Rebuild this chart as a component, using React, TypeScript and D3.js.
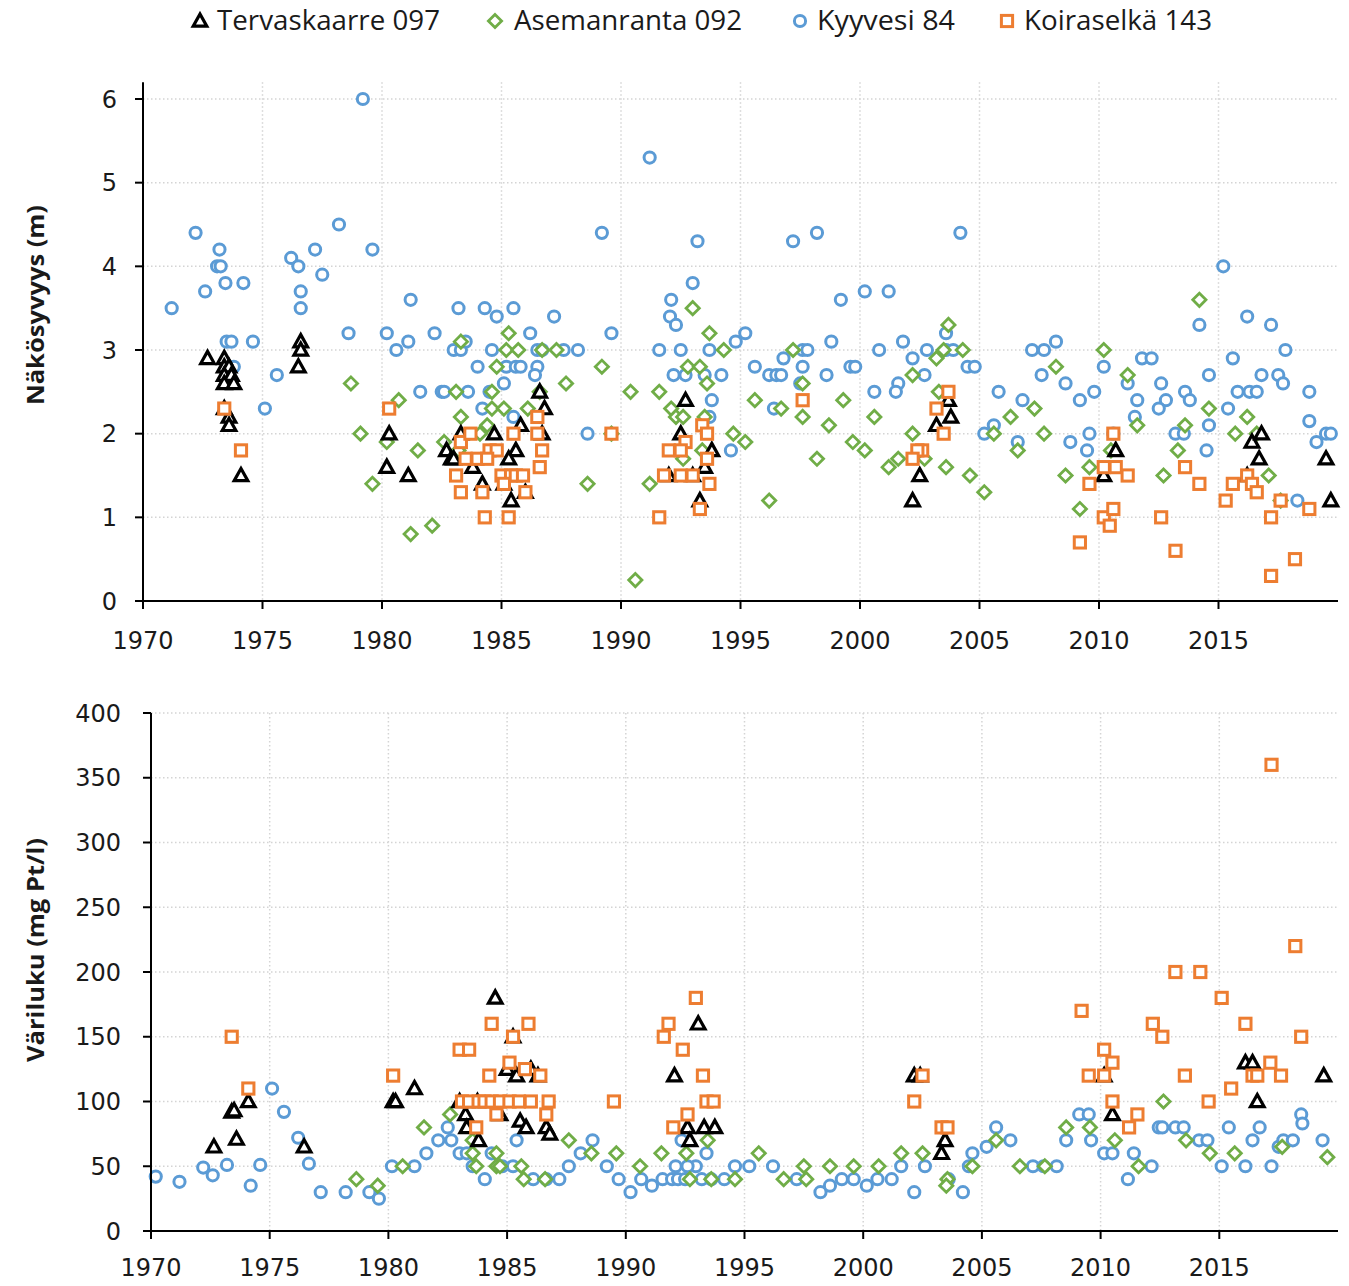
import React from "react";
import * as d3 from "d3";

type Pt = [number, number];

// Näkösyvyys (m) — [vuosi, arvo]
const kyyvesiSecchi: Pt[] = [
  [1971.2, 3.5], [1972.2, 4.4], [1972.6, 3.7], [1973.2, 4.2], [1973.1, 4.0], [1973.25, 4.0], [1973.45, 3.8],
  [1974.2, 3.8], [1973.5, 3.1], [1973.7, 3.1], [1973.8, 2.8], [1974.6, 3.1], [1975.6, 2.7], [1975.1, 2.3],
  [1976.2, 4.1], [1976.5, 4.0], [1976.6, 3.7], [1976.6, 3.5], [1977.2, 4.2], [1977.5, 3.9], [1978.2, 4.5],
  [1979.2, 6.0], [1979.6, 4.2], [1978.6, 3.2], [1980.2, 3.2], [1980.6, 3.0], [1981.2, 3.6], [1981.1, 3.1],
  [1982.2, 3.2], [1983.2, 3.5], [1984.3, 3.5], [1984.8, 3.4], [1985.5, 3.5], [1987.2, 3.4], [1989.2, 4.4],
  [1989.6, 3.2], [1983.0, 3.0], [1983.3, 3.0], [1983.5, 3.1], [1984.6, 3.0], [1986.2, 3.2], [1986.5, 3.0],
  [1986.7, 3.0], [1987.6, 3.0], [1988.2, 3.0], [1984.0, 2.8], [1985.2, 2.8], [1985.6, 2.8], [1985.8, 2.8],
  [1986.5, 2.8], [1986.4, 2.7], [1985.1, 2.6], [1981.6, 2.5], [1982.5, 2.5], [1982.6, 2.5], [1983.6, 2.5],
  [1984.5, 2.5], [1984.2, 2.3], [1985.5, 2.2], [1988.6, 2.0],
  [1991.2, 5.3], [1993.2, 4.3], [1993.0, 3.8], [1992.1, 3.6], [1992.05, 3.4], [1992.3, 3.3], [1991.6, 3.0],
  [1992.5, 3.0], [1993.7, 3.0], [1994.8, 3.1], [1995.2, 3.2], [1992.2, 2.7], [1992.7, 2.7], [1993.5, 2.7],
  [1994.2, 2.7], [1993.8, 2.4], [1993.7, 2.2], [1994.6, 1.8], [1995.6, 2.8], [1996.2, 2.7], [1996.5, 2.7],
  [1996.7, 2.7], [1996.8, 2.9], [1997.2, 4.3], [1998.2, 4.4], [1997.6, 3.0], [1997.8, 3.0], [1997.6, 2.8],
  [1997.5, 2.6], [1996.4, 2.3], [1998.8, 3.1], [1998.6, 2.7], [1999.2, 3.6], [2000.2, 3.7], [1999.6, 2.8],
  [1999.8, 2.8], [2000.6, 2.5],
  [2001.2, 3.7], [2000.8, 3.0], [2001.8, 3.1], [2002.2, 2.9], [2002.8, 3.0], [2002.7, 2.7], [2001.6, 2.6],
  [2001.5, 2.5], [2003.6, 3.2], [2003.6, 3.0], [2003.9, 3.0], [2004.2, 4.4], [2004.5, 2.8], [2004.8, 2.8],
  [2005.2, 2.0], [2005.6, 2.1], [2005.8, 2.5], [2006.6, 1.9], [2006.8, 2.4], [2007.2, 3.0], [2007.7, 3.0],
  [2008.2, 3.1], [2007.6, 2.7], [2008.6, 2.6], [2009.2, 2.4], [2009.8, 2.5], [2008.8, 1.9], [2009.5, 1.8],
  [2009.6, 2.0], [2010.2, 2.8], [2010.6, 2.0],
  [2015.2, 4.0], [2014.2, 3.3], [2016.2, 3.4], [2017.2, 3.3], [2017.8, 3.0], [2015.6, 2.9], [2011.8, 2.9],
  [2012.2, 2.9], [2011.2, 2.6], [2014.6, 2.7], [2012.6, 2.6], [2011.6, 2.4], [2012.8, 2.4], [2012.5, 2.3],
  [2013.6, 2.5], [2013.8, 2.4], [2011.5, 2.2], [2013.2, 2.0], [2013.55, 2.0], [2014.6, 2.1], [2014.5, 1.8],
  [2015.8, 2.5], [2016.3, 2.5], [2016.6, 2.5], [2016.8, 2.7], [2017.5, 2.7], [2017.7, 2.6], [2015.4, 2.3],
  [2018.8, 2.5], [2018.8, 2.15], [2019.1, 1.9], [2019.5, 2.0], [2019.7, 2.0], [2018.3, 1.2],
];

const asemanrantaSecchi: Pt[] = [
  [1978.7, 2.6], [1979.1, 2.0], [1979.6, 1.4], [1980.2, 1.9], [1980.7, 2.4], [1981.5, 1.8], [1981.2, 0.8],
  [1982.1, 0.9], [1983.3, 3.1], [1982.6, 1.9], [1983.1, 2.5], [1983.3, 2.2], [1983.2, 1.8], [1985.3, 3.2],
  [1985.2, 3.0], [1985.7, 3.0], [1986.7, 3.0], [1987.3, 3.0], [1984.8, 2.8], [1984.6, 2.5], [1987.7, 2.6],
  [1989.2, 2.8], [1990.4, 2.5], [1984.6, 2.3], [1985.1, 2.3], [1986.1, 2.3], [1984.4, 2.1], [1984.1, 2.0],
  [1986.6, 2.5], [1988.6, 1.4], [1989.6, 2.0], [1990.6, 0.25],
  [1991.6, 2.5], [1992.1, 2.3], [1992.3, 2.2], [1992.6, 2.2], [1993.0, 3.5], [1993.7, 3.2], [1994.3, 3.0],
  [1992.8, 2.8], [1993.3, 2.8], [1993.6, 2.6], [1993.5, 2.2], [1992.6, 1.7], [1991.2, 1.4], [1994.7, 2.0],
  [1995.2, 1.9], [1993.4, 1.8], [1995.6, 2.4], [1996.2, 1.2], [1996.7, 2.3], [1997.2, 3.0], [1997.6, 2.6],
  [1997.6, 2.2], [1998.2, 1.7], [1998.7, 2.1], [1999.3, 2.4], [1999.7, 1.9], [2000.2, 1.8], [2000.6, 2.2],
  [2002.2, 2.7], [2003.2, 2.9], [2003.5, 3.0], [2003.7, 3.3], [2004.3, 3.0], [2003.3, 2.5], [2002.2, 2.0],
  [2001.2, 1.6], [2001.6, 1.7], [2002.7, 1.7], [2003.6, 1.6], [2004.6, 1.5], [2005.2, 1.3], [2005.6, 2.0],
  [2006.3, 2.2], [2006.6, 1.8], [2007.3, 2.3], [2007.7, 2.0], [2008.2, 2.8], [2008.6, 1.5], [2009.2, 1.1],
  [2009.6, 1.6], [2010.2, 3.0], [2010.5, 1.8],
  [2014.2, 3.6], [2011.2, 2.7], [2011.6, 2.1], [2013.6, 2.1], [2013.3, 1.8], [2012.7, 1.5], [2014.6, 2.3],
  [2015.7, 2.0], [2016.2, 2.2], [2016.6, 2.0], [2017.1, 1.5], [2017.6, 1.2],
];

const tervasSecchi: Pt[] = [
  [1972.7, 2.9], [1973.4, 2.9], [1973.4, 2.8], [1973.6, 2.8], [1973.4, 2.7], [1973.7, 2.7], [1973.4, 2.6],
  [1973.8, 2.6], [1973.6, 2.2], [1973.6, 2.1], [1973.4, 2.3], [1974.1, 1.5], [1976.6, 3.1], [1976.6, 3.0],
  [1976.5, 2.8], [1980.3, 2.0], [1980.2, 1.6], [1981.1, 1.5], [1982.7, 1.8], [1982.9, 1.7], [1983.3, 2.0],
  [1984.7, 2.0], [1985.6, 1.8], [1985.3, 1.7], [1984.2, 1.4], [1985.4, 1.2], [1985.1, 1.4], [1986.0, 1.3],
  [1986.6, 2.5], [1986.8, 2.3], [1986.7, 2.0], [1985.8, 2.1], [1983.8, 1.6], [1983.0, 1.7],
  [1992.7, 2.4], [1992.5, 2.0], [1993.8, 1.8], [1993.5, 1.6], [1992.0, 1.5], [1993.0, 1.5], [1993.3, 1.2],
  [2002.2, 1.2], [2002.5, 1.5], [2003.2, 2.1], [2003.8, 2.2], [2003.7, 2.4], [2010.2, 1.5], [2010.7, 1.8],
  [2016.4, 1.9], [2016.8, 2.0], [2016.7, 1.7], [2016.2, 1.5], [2019.5, 1.7], [2019.7, 1.2],
];

const koiraselkaSecchi: Pt[] = [
  [1973.4, 2.3], [1974.1, 1.8], [1980.3, 2.3], [1983.3, 1.9], [1983.7, 2.0], [1983.1, 1.5], [1983.3, 1.3],
  [1983.5, 1.7], [1984.0, 1.7], [1984.5, 1.8], [1984.8, 1.8], [1984.4, 1.7], [1984.2, 1.3], [1984.3, 1.0],
  [1985.3, 1.0], [1985.0, 1.5], [1985.4, 1.5], [1985.6, 1.5], [1985.9, 1.5], [1985.1, 1.4], [1986.0, 1.3],
  [1985.5, 2.0], [1986.5, 2.2], [1986.5, 2.0], [1986.7, 1.8], [1986.6, 1.6], [1989.6, 2.0],
  [1993.4, 2.1], [1993.6, 2.0], [1992.7, 1.9], [1992.0, 1.8], [1992.5, 1.8], [1993.6, 1.7], [1991.8, 1.5],
  [1992.5, 1.5], [1993.0, 1.5], [1993.7, 1.4], [1993.3, 1.1], [1991.6, 1.0], [1997.6, 2.4],
  [2002.6, 1.8], [2002.4, 1.8], [2002.2, 1.7], [2003.7, 2.5], [2003.2, 2.3], [2003.5, 2.0],
  [2009.6, 1.4], [2009.2, 0.7], [2010.2, 1.6], [2010.6, 2.0], [2010.2, 1.0], [2010.45, 0.9], [2010.6, 1.1],
  [2010.7, 1.6], [2011.2, 1.5], [2013.6, 1.6], [2014.2, 1.4], [2012.6, 1.0], [2013.2, 0.6], [2015.3, 1.2],
  [2015.6, 1.4], [2016.2, 1.5], [2016.4, 1.4], [2016.6, 1.3], [2017.2, 1.0], [2017.2, 0.3], [2017.6, 1.2],
  [2018.2, 0.5], [2018.8, 1.1],
];

// Väriluku (mg Pt/l) — [vuosi, arvo]
const kyyvesiColour: Pt[] = [
  [1970.2, 42], [1971.2, 38], [1972.2, 49], [1972.6, 43], [1973.2, 51], [1974.2, 35], [1974.6, 51],
  [1975.1, 110], [1975.6, 92], [1976.2, 72], [1976.65, 52], [1977.15, 30], [1978.2, 30], [1979.2, 30],
  [1979.6, 25], [1980.15, 50], [1981.1, 50], [1981.6, 60], [1982.1, 70], [1982.65, 70], [1982.5, 80],
  [1983.0, 60], [1983.3, 60], [1983.55, 50], [1984.06, 40], [1984.35, 60], [1984.8, 50], [1985.25, 50],
  [1985.4, 70], [1986.1, 40], [1986.65, 40], [1987.2, 40], [1987.6, 50], [1988.1, 60], [1988.6, 70],
  [1989.2, 50], [1989.7, 40], [1990.2, 30], [1990.65, 40], [1991.1, 35], [1991.55, 40], [1991.95, 40],
  [1992.2, 40], [1992.5, 40], [1992.1, 50], [1992.95, 50], [1992.35, 70], [1992.6, 50], [1993.2, 40],
  [1993.6, 40], [1994.15, 40], [1993.4, 60], [1994.6, 50], [1995.2, 50], [1996.2, 50], [1997.2, 40],
  [1998.2, 30], [1998.6, 35], [1999.1, 40], [1999.6, 40], [2000.15, 35], [2000.6, 40], [2001.2, 40],
  [2001.6, 50], [2002.15, 30], [2002.6, 50], [2003.6, 40], [2004.2, 30], [2004.45, 50], [2004.6, 60],
  [2005.2, 65], [2005.6, 80], [2006.2, 70], [2007.15, 50], [2007.6, 50], [2008.15, 50], [2008.55, 70],
  [2009.1, 90], [2009.5, 90], [2009.6, 70], [2010.15, 60], [2010.5, 60], [2011.15, 40], [2011.4, 60],
  [2012.15, 50], [2012.45, 80], [2012.6, 80], [2013.15, 80], [2013.5, 80], [2014.15, 70], [2014.5, 70],
  [2015.1, 50], [2015.4, 80], [2016.1, 50], [2016.4, 70], [2016.7, 80], [2017.2, 50], [2017.5, 65],
  [2017.7, 70], [2018.1, 70], [2018.45, 90], [2018.5, 83], [2019.35, 70],
];

const asemanrantaColour: Pt[] = [
  [1978.65, 40], [1979.55, 35], [1980.6, 50], [1981.5, 80], [1982.6, 90], [1983.55, 70], [1983.55, 60],
  [1983.7, 50], [1984.55, 60], [1984.55, 50], [1984.7, 50], [1985.6, 50], [1985.7, 40], [1986.6, 40],
  [1987.6, 70], [1988.55, 60], [1989.6, 60], [1990.6, 50], [1991.5, 60], [1992.55, 60], [1992.7, 40],
  [1993.45, 70], [1993.6, 40], [1994.6, 40], [1995.6, 60], [1996.65, 40], [1997.6, 40], [1997.5, 50],
  [1998.6, 50], [1999.6, 50], [2000.65, 50], [2001.6, 60], [2002.5, 60], [2003.55, 40], [2003.5, 35],
  [2004.6, 50], [2005.6, 70], [2006.6, 50], [2007.65, 50], [2008.55, 80], [2009.55, 80], [2010.6, 70],
  [2011.6, 50], [2012.65, 100], [2013.6, 70], [2014.6, 60], [2015.65, 60], [2017.65, 65], [2019.55, 57],
];

const tervasColour: Pt[] = [
  [1972.65, 65], [1973.4, 92], [1973.5, 93], [1973.6, 71], [1974.1, 100], [1976.45, 65], [1980.2, 100],
  [1980.3, 100], [1981.1, 110], [1983.0, 100], [1983.25, 90], [1983.3, 80], [1983.8, 70], [1983.75, 100],
  [1984.5, 180], [1985.0, 125], [1985.4, 120], [1986.0, 125], [1986.3, 120], [1984.7, 90], [1985.55, 85],
  [1985.8, 80], [1986.65, 80], [1986.8, 75], [1985.25, 150],
  [1992.05, 120], [1993.05, 160], [1992.6, 80], [1993.3, 80], [1993.75, 80], [1992.7, 70],
  [2002.15, 120], [2002.4, 120], [2003.45, 70], [2003.3, 60], [2010.15, 120], [2010.5, 90],
  [2016.1, 130], [2016.4, 130], [2016.6, 100], [2019.4, 120],
];

const koiraselkaColour: Pt[] = [
  [1973.4, 150], [1974.1, 110], [1980.2, 120], [1983.0, 140], [1983.4, 140], [1984.35, 160], [1985.9, 160],
  [1985.25, 150], [1984.25, 120], [1985.1, 130], [1985.75, 125], [1986.4, 120], [1983.1, 100], [1983.4, 100],
  [1983.8, 100], [1984.05, 100], [1984.35, 100], [1984.7, 100], [1985.1, 100], [1985.5, 100], [1986.0, 100],
  [1986.75, 100], [1984.55, 90], [1986.65, 90], [1983.7, 80], [1989.5, 100],
  [1992.95, 180], [1991.8, 160], [1991.6, 150], [1992.4, 140], [1993.25, 120], [1993.4, 100], [1993.7, 100],
  [1992.6, 90], [1992.0, 80], [2002.5, 120], [2002.15, 100], [2003.3, 80], [2003.55, 80],
  [2009.2, 170], [2010.15, 140], [2010.5, 130], [2009.5, 120], [2010.15, 120], [2010.5, 100], [2011.55, 90],
  [2011.2, 80], [2013.15, 200], [2014.2, 200], [2015.1, 180], [2016.1, 160], [2012.2, 160], [2012.6, 150],
  [2018.45, 150], [2017.2, 360], [2018.2, 220], [2013.55, 120], [2017.15, 130], [2016.4, 120], [2016.6, 120],
  [2017.6, 120], [2015.5, 110], [2014.55, 100],
];

const seriesNames = ["Tervaskaarre 097", "Asemanranta 092", "Kyyvesi 84", "Koiraselkä 143"];
const yearTicks = [1970, 1975, 1980, 1985, 1990, 1995, 2000, 2005, 2010, 2015];
const secchiTicks = [0, 1, 2, 3, 4, 5, 6];
const colourTicks = [0, 50, 100, 150, 200, 250, 300, 350, 400];

const BLUE = "#5B9BD5";
const GREEN = "#70AD47";
const ORANGE = "#ED7D31";
const BLACK = "#000000";
const TICK_FONT = "'DejaVu Sans', Verdana, sans-serif";
const NARROW_FONT = "'Liberation Sans Narrow', 'Arial Narrow', 'Open Sans', sans-serif";

type Kind = "tri" | "dia" | "circ" | "sq";

const Marker = ({ kind, x, y }: { kind: Kind; x: number; y: number }) => {
  if (kind === "circ")
    return <circle cx={x} cy={y} r={5.6} fill="#fff" stroke={BLUE} strokeWidth={3} />;
  if (kind === "sq")
    return <rect x={x - 5.6} y={y - 5.6} width={11.2} height={11.2} fill="#fff" stroke={ORANGE} strokeWidth={3} />;
  if (kind === "dia")
    return <path transform={`translate(${x},${y})`} d="M0,-6.6 L6.6,0 L0,6.6 L-6.6,0 Z" fill="#fff" stroke={GREEN} strokeWidth={2.8} />;
  return <path transform={`translate(${x},${y})`} d="M0,-7 L6.8,5.2 L-6.8,5.2 Z" fill="#fff" stroke={BLACK} strokeWidth={3.2} strokeLinejoin="miter" />;
};

const Panel = ({ x, y, yTicks, yTop, labelRight, xLabelY, title, titleLen, titleY, sets }: any) => {
  const [x0, x1] = x.range();
  const yBase = y(0);
  return (
    <g>
      {/* grid */}
      {yTicks.filter((t: number) => t > 0).map((t: number) => (
        <line key={"h" + t} x1={x0} x2={x1} y1={y(t)} y2={y(t)} stroke="#d4d4d4" strokeWidth={1.5} strokeDasharray="1.5 2.5" />
      ))}
      {yearTicks.filter((t) => t > 1970).map((t) => (
        <line key={"v" + t} x1={x(t)} x2={x(t)} y1={y(yTop)} y2={yBase} stroke="#d4d4d4" strokeWidth={1.5} strokeDasharray="1.5 2.5" />
      ))}
      {/* markers */}
      {sets.map((s: any) => (
        <g key={s.kind}>
          {s.data.map((d: Pt, i: number) => (
            <Marker key={i} kind={s.kind} x={x(d[0])} y={y(d[1])} />
          ))}
        </g>
      ))}
      {/* axes */}
      <line x1={x0} x2={x0} y1={y(yTop)} y2={yBase + 8} stroke="#000" strokeWidth={2} />
      <line x1={x0 - 8} x2={x1} y1={yBase} y2={yBase} stroke="#000" strokeWidth={2} />
      {yTicks.map((t: number) => (
        <g key={"yt" + t}>
          <line x1={x0 - 8} x2={x0} y1={y(t)} y2={y(t)} stroke="#000" strokeWidth={2} />
          <text x={labelRight} y={y(t)} dy="0.36em" textAnchor="end" fontFamily={TICK_FONT} fontSize={24} fill="#1a1a1a">
            {t}
          </text>
        </g>
      ))}
      {yearTicks.map((t) => (
        <g key={"xt" + t}>
          <line x1={x(t)} x2={x(t)} y1={yBase} y2={yBase + 8} stroke="#000" strokeWidth={2} />
          <text x={x(t)} y={xLabelY} dy="0.36em" textAnchor="middle" fontFamily={TICK_FONT} fontSize={24} fill="#1a1a1a">
            {t}
          </text>
        </g>
      ))}
      <text
        transform={`translate(36,${titleY}) rotate(-90)`}
        textAnchor="middle"
        dy="0.35em"
        fontFamily={NARROW_FONT}
        fontWeight="bold"
        fontSize={24}
        textLength={titleLen}
        lengthAdjust="spacingAndGlyphs"
        fill="#1a1a1a"
      >
        {title}
      </text>
    </g>
  );
};

export default function App() {
  const xTop = d3.scaleLinear().domain([1970, 2020]).range([143, 1338]);
  const yTop = d3.scaleLinear().domain([0, 6]).range([601, 99]);
  const xBot = d3.scaleLinear().domain([1970, 2020]).range([151, 1338]);
  const yBot = d3.scaleLinear().domain([0, 400]).range([1231, 713]);

  const topSets = [
    { kind: "circ", data: kyyvesiSecchi },
    { kind: "dia", data: asemanrantaSecchi },
    { kind: "tri", data: tervasSecchi },
    { kind: "sq", data: koiraselkaSecchi },
  ];
  const botSets = [
    { kind: "circ", data: kyyvesiColour },
    { kind: "dia", data: asemanrantaColour },
    { kind: "tri", data: tervasColour },
    { kind: "sq", data: koiraselkaColour },
  ];

  const legend: { kind: Kind; mx: number; tx: number; len: number }[] = [
    { kind: "tri", mx: 200, tx: 217, len: 223 },
    { kind: "dia", mx: 495, tx: 514, len: 228 },
    { kind: "circ", mx: 800, tx: 817, len: 138 },
    { kind: "sq", mx: 1007, tx: 1024, len: 188 },
  ];

  return (
    <svg width={1349} height={1286} style={{ position: "absolute", left: 0, top: 0, background: "#fff" }}>
      <rect width={1349} height={1286} fill="#fff" />
      {legend.map((l, i) => (
        <g key={i}>
          <Marker kind={l.kind} x={l.mx} y={21} />
          <text x={l.tx} y={21} dy="0.35em" fontFamily={NARROW_FONT} fontSize={27} textLength={l.len} lengthAdjust="spacingAndGlyphs" fill="#1a1a1a">
            {seriesNames[i]}
          </text>
        </g>
      ))}
      <Panel x={xTop} y={yTop} yTicks={secchiTicks} yTop={6.2} labelRight={117} xLabelY={640} title="Näkösyvyys (m)" titleLen={200} titleY={305} sets={topSets} />
      <Panel x={xBot} y={yBot} yTicks={colourTicks} yTop={400} labelRight={121} xLabelY={1267} title="Väriluku (mg Pt/l)" titleLen={224} titleY={950} sets={botSets} />
    </svg>
  );
}
